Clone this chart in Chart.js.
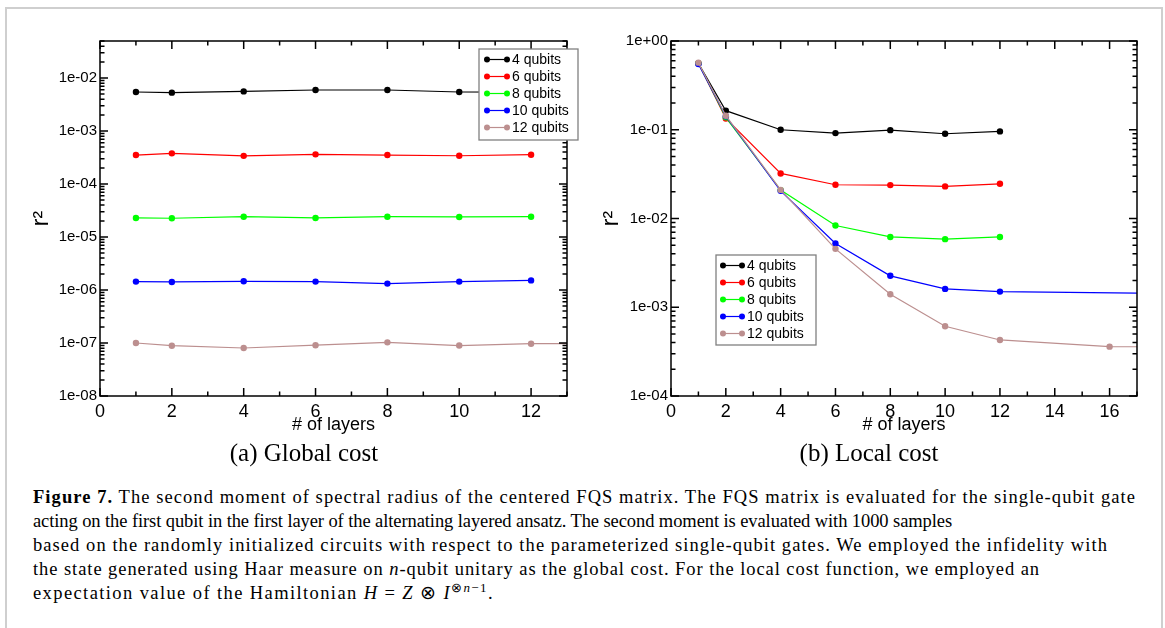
<!DOCTYPE html>
<html>
<head>
<meta charset="utf-8">
<script src="https://cdn.jsdelivr.net/npm/chart.js@4.4.1/dist/chart.umd.min.js"></script>
<style>
  body { margin: 0; width: 1165px; height: 628px; position: relative; overflow: hidden; background: #fff; }
  .frame { position: absolute; left: 5px; top: 7px; width: 1154px; height: 700px; border: 2px solid #cfcfcf; border-bottom: none; }
  canvas { position: absolute; top: 20px; }
  #globalChart { left: 0; }
  #localChart { left: 590px; }
  .sub { position: absolute; top: 439px; font: 25px "Liberation Serif", serif; transform: translateX(-50%); white-space: nowrap; }
  .caption { position: absolute; left: 33px; top: 485px; font: 18.5px/24px "Liberation Serif", serif; white-space: nowrap; }
  .caption div { width: max-content; }
  .caption sup { font-size: 13px; line-height: 0; vertical-align: 7px; }
</style>
</head>
<body>
<div class="frame"></div>
<canvas id="globalChart" width="590" height="420"></canvas>
<canvas id="localChart" width="575" height="420"></canvas>
<div class="sub" style="left:304px">(a) Global cost</div>
<div class="sub" style="left:869px">(b) Local cost</div>
<div class="caption">
<div><b>Figure 7.</b> The second moment of spectral radius of the centered FQS matrix. The FQS matrix is evaluated for the single-qubit gate</div>
<div>acting on the first qubit in the first layer of the alternating layered ansatz. The second moment is evaluated with 1000 samples</div>
<div>based on the randomly initialized circuits with respect to the parameterized single-qubit gates. We employed the infidelity with</div>
<div>the state generated using Haar measure on <i>n</i>-qubit unitary as the global cost. For the local cost function, we employed an</div>
<div>expectation value of the Hamiltonian <i>H</i> = <i>Z</i> ⊗ <i>I</i><sup>⊗<i>n</i>−1</sup>.</div>
</div>
<script>
const layers = [1, 2, 4, 6, 8, 10, 12, 16, 20];
const seriesNames = ["4 qubits", "6 qubits", "8 qubits", "10 qubits", "12 qubits"];
const seriesColors = ["#000000", "#ff0000", "#00ff00", "#0000ff", "#bc8f8f"];

// (a) global cost
const global4 = [5.45e-3, 5.3e-3, 5.6e-3, 5.95e-3, 5.95e-3, 5.45e-3, 5.4e-3];
const global6 = [3.52e-4, 3.79e-4, 3.4e-4, 3.63e-4, 3.52e-4, 3.42e-4, 3.58e-4];
const global8 = [2.29e-5, 2.26e-5, 2.42e-5, 2.29e-5, 2.42e-5, 2.39e-5, 2.42e-5];
const global10 = [1.44e-6, 1.42e-6, 1.46e-6, 1.44e-6, 1.32e-6, 1.44e-6, 1.52e-6, null, 1.53e-6];
const global12 = [1.0e-7, 8.9e-8, 8.05e-8, 9.1e-8, 1.03e-7, 8.96e-8, 9.7e-8, 9.7e-8, 9.7e-8];

// (b) local cost
const local4 = [0.56, 0.164, 0.1, 0.0917, 0.099, 0.0902, 0.0958];
const local6 = [0.56, 0.134, 0.0322, 0.024, 0.0238, 0.023, 0.0246];
const local8 = [0.56, 0.138, 0.0209, 0.00834, 0.0062, 0.00585, 0.0062];
const local10 = [0.55, 0.142, 0.0205, 0.00522, 0.00226, 0.00161, 0.0015, null, 0.00141];
const local12 = [0.57, 0.144, 0.021, 0.00455, 0.0014, 6.1e-4, 4.28e-4, 3.6e-4, 3.55e-4];

const globalTicks = ["1e-08", "1e-07", "1e-06", "1e-05", "1e-04", "1e-03", "1e-02"];
const localTicks = ["1e-04", "1e-03", "1e-02", "1e-01", "1e+00"];
const globalLayerTicks = [0, 2, 4, 6, 8, 10, 12];
const localLayerTicks = [0, 2, 4, 6, 8, 10, 12, 14, 16];

// caption line widths in the printed figure
const captionWidths = [1103, 919, 1075, 1007, 461];
document.querySelectorAll(".caption div").forEach((line, i) => {
    const extra = captionWidths[i] - line.getBoundingClientRect().width;
    line.style.letterSpacing = (extra / line.textContent.length) + "px";
});

Chart.defaults.font.family = "'Liberation Sans', Arial, sans-serif";
Chart.defaults.color = "#000";

// xmgrace style: boxed frame, inward ticks, legend box
const graceFrame = {
    id: "graceFrame",
    afterDraw(chart, args, opts) {
        const { ctx, chartArea: a, scales: { x, y } } = chart;
        ctx.save();
        ctx.strokeStyle = "#000";
        ctx.lineWidth = 1.5;
        ctx.strokeRect(a.left, a.top, a.right - a.left, a.bottom - a.top);
        ctx.beginPath();
        for (let v = Math.ceil(x.min); v <= x.max; v++) {
            const px = x.getPixelForValue(v);
            const len = v % 2 === 0 ? 8 : 4.5;
            ctx.moveTo(px, a.bottom); ctx.lineTo(px, a.bottom - len);
            ctx.moveTo(px, a.top); ctx.lineTo(px, a.top + len);
        }
        const e0 = Math.floor(Math.log10(y.min)), e1 = Math.ceil(Math.log10(y.max));
        for (let e = e0; e <= e1; e++) {
            for (let m = 1; m < 10; m++) {
                const v = m * Math.pow(10, e);
                if (v < y.min * 0.999 || v > y.max * 1.001) continue;
                const py = y.getPixelForValue(v);
                const len = m === 1 ? 8 : 4.5;
                ctx.moveTo(a.left, py); ctx.lineTo(a.left + len, py);
                ctx.moveTo(a.right, py); ctx.lineTo(a.right - len, py);
            }
        }
        ctx.stroke();

        const b = opts.box;
        ctx.fillStyle = "#fff";
        ctx.fillRect(b.left, b.top, b.width, b.height);
        ctx.strokeStyle = "#808080";
        ctx.lineWidth = 1.3;
        ctx.strokeRect(b.left, b.top, b.width, b.height);
        ctx.font = "14px 'Liberation Sans', Arial, sans-serif";
        ctx.textBaseline = "middle";
        chart.data.datasets.forEach((ds, i) => {
            const yy = b.top + 10.5 + i * 17;
            ctx.strokeStyle = ds.borderColor;
            ctx.lineWidth = 1.2;
            ctx.beginPath();
            ctx.moveTo(b.left + b.line0, yy);
            ctx.lineTo(b.left + b.line1, yy);
            ctx.stroke();
            ctx.fillStyle = ds.borderColor;
            [b.line0, b.line1].forEach(dx => {
                ctx.beginPath();
                ctx.arc(b.left + dx, yy, 3, 0, 2 * Math.PI);
                ctx.fill();
            });
            ctx.fillStyle = "#000";
            ctx.fillText(ds.label, b.left + b.text, yy + 1);
        });
        ctx.restore();
    }
};

const makeChart = (id, series, xMax, xLabels, yMin, yMax, yLabels, o) => new Chart(document.getElementById(id), {
    type: "line",
    data: {
        datasets: series.map((vals, i) => ({
            label: seriesNames[i],
            data: vals.map((v, j) => ({ x: layers[j], y: v })),
            borderColor: seriesColors[i],
            backgroundColor: seriesColors[i],
            borderWidth: 1.2,
            pointRadius: 3.2,
            pointHoverRadius: 3.2,
            pointBorderWidth: 0,
            spanGaps: true,
            clip: 0,
            order: 4 - i,
        })),
    },
    options: {
        responsive: false,
        animation: false,
        layout: { padding: { top: 21, right: o.padRight, left: 0, bottom: 0 } },
        scales: {
            x: {
                type: "linear",
                min: 0,
                max: xMax,
                afterBuildTicks: s => { s.ticks = xLabels.map(v => ({ value: v })); },
                ticks: { padding: 5, font: { size: 18 }, autoSkip: false },
                grid: { display: false, drawTicks: false },
                border: { display: false },
                title: { display: true, text: "# of layers", font: { size: 18 }, padding: { top: 0, bottom: 4 } },
                afterFit: s => { s.height = 44; },
            },
            y: {
                type: "logarithmic",
                min: yMin,
                max: yMax,
                afterBuildTicks: s => { s.ticks = yLabels.map(t => ({ value: Number(t) })); },
                ticks: { callback: (v, i) => yLabels[i], padding: 3, font: { size: 15 }, autoSkip: false },
                grid: { display: false, drawTicks: false },
                border: { display: false },
                title: { display: true, text: "r²", font: { size: 23 }, padding: { top: o.titlePad, bottom: 0 } },
                afterFit: s => { s.width = o.yWidth; },
            },
        },
        plugins: {
            legend: { display: false },
            tooltip: { enabled: false },
            graceFrame: { box: o.box },
        },
    },
    plugins: [graceFrame],
});

makeChart("globalChart", [global4, global6, global8, global10, global12], 13, globalLayerTicks, 1e-8, 0.05, globalTicks, {
    padRight: 23, yWidth: 100, titlePad: 28,
    box: { left: 479, top: 29, width: 99, height: 91, line0: 8, line1: 28, text: 33 },
});
makeChart("localChart", [local4, local6, local8, local10, local12], 17, localLayerTicks, 1e-4, 1, localTicks, {
    padRight: 28, yWidth: 81, titlePad: 8,
    box: { left: 126, top: 235, width: 100, height: 90, line0: 7, line1: 26, text: 31 },
});
</script>
</body>
</html>
